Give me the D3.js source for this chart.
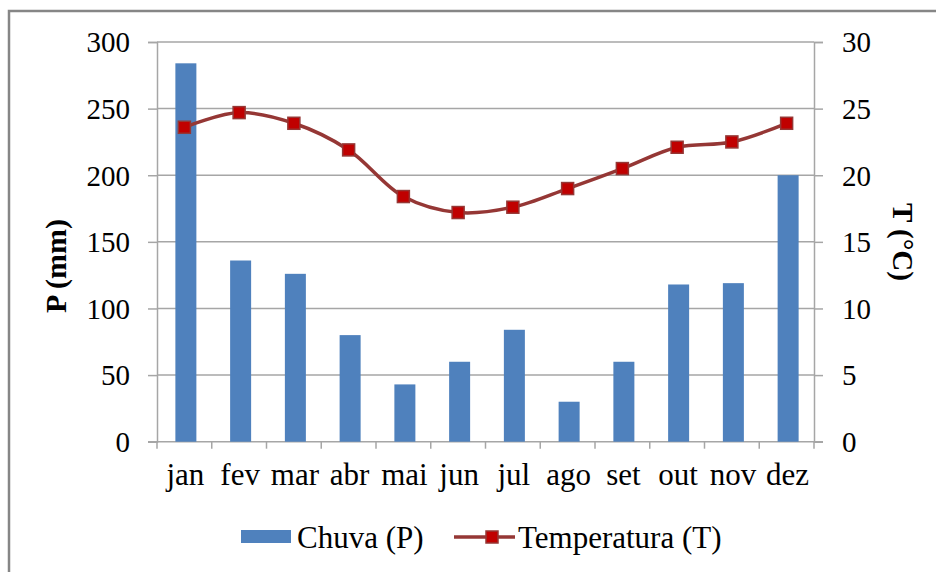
<!DOCTYPE html>
<html>
<head>
<meta charset="utf-8">
<script src="https://cdn.jsdelivr.net/npm/d3@7"></script>
<style>
  html, body { margin: 0; padding: 0; background: #fff; }
  svg { display: block; }
  text { font-family: "Liberation Serif", "Times New Roman", serif; fill: #000; }
</style>
</head>
<body>
<svg id="chart" width="936" height="572"></svg>
<script>
// Monthly climate data: rainfall (mm) and mean temperature (°C)
const months = ["jan", "fev", "mar", "abr", "mai", "jun", "jul", "ago", "set", "out", "nov", "dez"];
const chuva = [284, 136, 126, 80, 43, 60, 84, 30, 60, 118, 119, 200];
const temperatura = [23.6, 24.7, 23.9, 21.9, 18.4, 17.2, 17.6, 19.0, 20.5, 22.1, 22.5, 23.9];
const pTicks = [0, 50, 100, 150, 200, 250, 300];
const tTicks = [0, 5, 10, 15, 20, 25, 30];

const svg = d3.select("#chart");
const plot = { left: 157, right: 814, top: 42, bottom: 441.7 };
const gridColor = "#a6a6a6";

// Outer chart frame
svg.append("rect")
  .attr("x", 9).attr("y", 11)
  .attr("width", 1000).attr("height", 700)
  .attr("fill", "#fff")
  .attr("stroke", "#868686").attr("stroke-width", 2.5);

const x = d3.scaleBand().domain(months).range([plot.left, plot.right]).paddingInner(0).paddingOuter(0);
const yP = d3.scaleLinear().domain([0, 300]).range([plot.bottom, plot.top]);
const yT = d3.scaleLinear().domain([0, 30]).range([plot.bottom, plot.top]);

// Horizontal gridlines
svg.append("g").selectAll("line").data(pTicks.filter(d => d > 0)).join("line")
  .attr("x1", plot.left).attr("x2", plot.right)
  .attr("y1", d => yP(d)).attr("y2", d => yP(d))
  .attr("stroke", gridColor).attr("stroke-width", 1.5);

// Left axis (P)
const axL = svg.append("g").attr("transform", `translate(${plot.left},0)`)
  .call(d3.axisLeft(yP).tickValues(pTicks).tickSize(9).tickPadding(18));
axL.select(".domain").attr("stroke", gridColor).attr("stroke-width", 1.5);
axL.selectAll(".tick line").attr("stroke", gridColor).attr("stroke-width", 1.5);
axL.selectAll(".tick text").style("font-size", "29px").style("font-family", "Liberation Serif").attr("dy", "0.34em");

// Right axis (T)
const axR = svg.append("g").attr("transform", `translate(${plot.right},0)`)
  .call(d3.axisRight(yT).tickValues(tTicks).tickSize(9).tickPadding(19));
axR.select(".domain").attr("stroke", gridColor).attr("stroke-width", 1.5);
axR.selectAll(".tick line").attr("stroke", gridColor).attr("stroke-width", 1.5);
axR.selectAll(".tick text").style("font-size", "29px").style("font-family", "Liberation Serif").attr("dy", "0.34em");

// Bottom axis with ticks at category boundaries
svg.append("line")
  .attr("x1", plot.left - 9).attr("x2", plot.right + 9)
  .attr("y1", plot.bottom).attr("y2", plot.bottom)
  .attr("stroke", gridColor).attr("stroke-width", 1.5);
const bounds = months.map(m => x(m)).concat([plot.right]);
svg.append("g").selectAll("line").data(bounds).join("line")
  .attr("x1", d => d).attr("x2", d => d)
  .attr("y1", plot.bottom).attr("y2", plot.bottom + 7)
  .attr("stroke", gridColor).attr("stroke-width", 1.5);
svg.append("g").selectAll("text").data(months).join("text")
  .attr("x", d => x(d) + x.bandwidth() / 2 + 1)
  .attr("y", 485)
  .attr("text-anchor", "middle")
  .style("font-size", "31px")
  .text(d => d);

// Rainfall bars
const barW = 21;
svg.append("g").selectAll("rect").data(chuva).join("rect")
  .attr("x", (d, i) => x(months[i]) + x.bandwidth() / 2 - barW / 2 + 1.5)
  .attr("y", d => yP(d))
  .attr("width", barW)
  .attr("height", d => yP(0) - yP(d))
  .attr("fill", "#4f81bd");

// Temperature line (smoothed) and markers
const lineColor = "#953735";
const pts = temperatura.map((t, i) => [x(months[i]) + x.bandwidth() / 2, yT(t)]);
svg.append("path")
  .attr("d", d3.line().curve(d3.curveCatmullRom.alpha(0.5))(pts))
  .attr("fill", "none")
  .attr("stroke", lineColor).attr("stroke-width", 3.5);
const mk = 12;
svg.append("g").selectAll("rect").data(pts).join("rect")
  .attr("x", d => d[0] - mk / 2).attr("y", d => d[1] - mk / 2)
  .attr("width", mk).attr("height", mk)
  .attr("fill", "#c00000")
  .attr("stroke", lineColor).attr("stroke-width", 1.5);

// Axis titles
svg.append("text")
  .attr("transform", "translate(66,266) rotate(-90)")
  .attr("text-anchor", "middle")
  .style("font-size", "30px").style("font-weight", "bold")
  .text("P (mm)");
svg.append("text")
  .attr("transform", "translate(893,242) rotate(90)")
  .attr("text-anchor", "middle")
  .style("font-size", "29px").style("font-weight", "bold")
  .text("T (°C)");

// Legend
const lg = svg.append("g");
lg.append("rect").attr("x", 241).attr("y", 530).attr("width", 50).attr("height", 13).attr("fill", "#4f81bd");
lg.append("text").attr("x", 297).attr("y", 548).style("font-size", "31px").text("Chuva (P)");
lg.append("line").attr("x1", 454).attr("x2", 515).attr("y1", 537).attr("y2", 537)
  .attr("stroke", lineColor).attr("stroke-width", 3.5);
lg.append("rect").attr("x", 486).attr("y", 531).attr("width", 12).attr("height", 12)
  .attr("fill", "#c00000").attr("stroke", lineColor).attr("stroke-width", 1.5);
lg.append("text").attr("x", 518).attr("y", 548).style("font-size", "31px").text("Temperatura (T)");
</script>
</body>
</html>
